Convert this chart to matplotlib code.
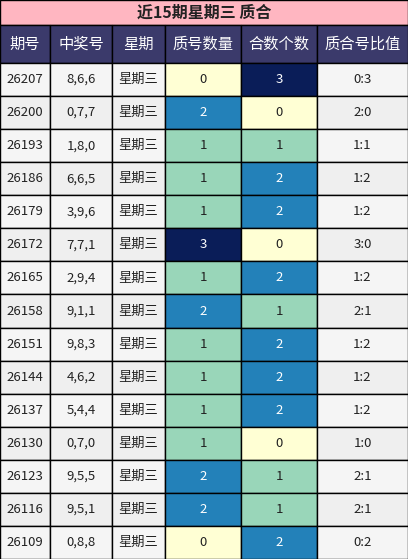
import matplotlib.pyplot as plt
from matplotlib.patches import Rectangle

plt.rcParams['font.family'] = ['Noto Sans CJK SC', 'DejaVu Sans']

title = "近15期星期三 质合"
headers = ["期号", "中奖号", "星期", "质号数量", "合数个数", "质合号比值"]
issues = ["26207", "26200", "26193", "26186", "26179", "26172", "26165", "26158",
          "26151", "26144", "26137", "26130", "26123", "26116", "26109"]
numbers = ["8,6,6", "0,7,7", "1,8,0", "6,6,5", "3,9,6", "7,7,1", "2,9,4", "9,1,1",
           "9,8,3", "4,6,2", "5,4,4", "0,7,0", "9,5,5", "9,5,1", "0,8,8"]
prime_cnt = [0, 2, 1, 1, 1, 3, 1, 2, 1, 1, 1, 1, 2, 2, 0]
comp_cnt = [3, 0, 1, 2, 2, 0, 2, 1, 2, 2, 2, 0, 1, 1, 2]

W, H = 408, 559
col_x = [0, 50, 112, 165, 241, 317, 408]
title_h = 25
head_h = 38
row_h = (H - title_h - head_h) / len(issues)

cell_col = {0: "#ffffd4", 1: "#99d6b9", 2: "#2381b9", 3: "#0a1d58"}
txt_col = {0: "#222222", 1: "#222222", 2: "white", 3: "white"}

fig = plt.figure(figsize=(W / 100, H / 100), dpi=100)
ax = fig.add_axes([0, 0, 1, 1])
ax.set_xlim(0, W)
ax.set_ylim(H, 0)
ax.axis("off")

def cell(x0, x1, y0, h, fc, text, tc="#222222", size=9.5, weight="normal"):
    ax.add_patch(Rectangle((x0, y0), x1 - x0, h, facecolor=fc, edgecolor="black", lw=1))
    ax.text((x0 + x1) / 2, y0 + h / 2, text, ha="center", va="center",
            color=tc, fontsize=size, fontweight=weight)

cell(0, W, 0, title_h, "#ffb6c1", title, size=11.5, weight="bold")
for i, h in enumerate(headers):
    cell(col_x[i], col_x[i + 1], title_h, head_h, "#3b3a6b", h, "white", size=11)

for r in range(len(issues)):
    y = title_h + head_h + r * row_h
    bg = "#f5f5f5" if r % 2 == 0 else "#efefef"
    p, c = prime_cnt[r], comp_cnt[r]
    vals = [(issues[r], bg, "#222222"), (numbers[r], bg, "#222222"), ("星期三", bg, "#222222"),
            (str(p), cell_col[p], txt_col[p]), (str(c), cell_col[c], txt_col[c]),
            (f"{p}:{c}", bg, "#222222")]
    for i, (t, fc, tc) in enumerate(vals):
        cell(col_x[i], col_x[i + 1], y, row_h, fc, t, tc)

fig.savefig("out.png", dpi=100)
